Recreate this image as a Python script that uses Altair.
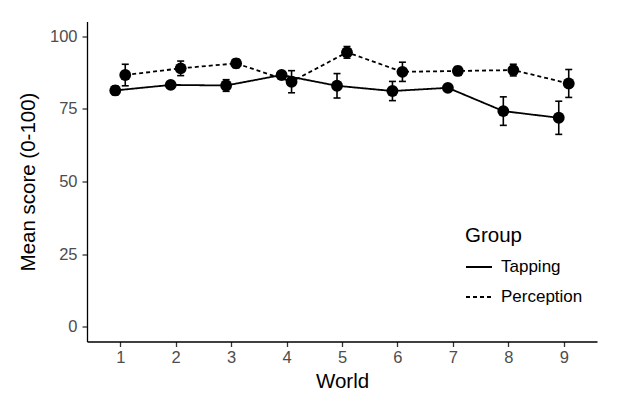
import altair as alt
import pandas as pd

worlds = [1, 2, 3, 4, 5, 6, 7, 8, 9]
groups = ["Tapping", "Perception"]
tapping_mean = [81.3, 83.2, 83.0, 86.6, 82.9, 81.1, 82.2, 74.2, 71.9]
tapping_err = [1.5, 1.0, 2.0, 1.0, 4.2, 3.3, 1.0, 4.9, 5.7]
perception_mean = [86.6, 88.9, 90.6, 84.3, 94.4, 87.7, 88.0, 88.3, 83.7]
perception_err = [3.7, 2.5, 1.5, 3.8, 2.0, 3.3, 1.5, 2.0, 4.8]
y_ticks = [0, 25, 50, 75, 100]

rows = []
for g, means, errs in [("Tapping", tapping_mean, tapping_err),
                       ("Perception", perception_mean, perception_err)]:
    for w, m, e in zip(worlds, means, errs):
        rows.append({"World": w, "Group": g, "Mean": m, "Lo": m - e, "Hi": m + e})
df = pd.DataFrame(rows)

FONT = "Liberation Sans"

base = alt.Chart(df).transform_calculate(
    xd="datum.World + (datum.Group === 'Tapping' ? -0.09 : 0.09)"
)

x = alt.X("xd:Q", scale=alt.Scale(domain=[0.4, 9.6], nice=False, zero=False),
          axis=alt.Axis(values=worlds, title="World", format="d"))
y = alt.Y("Mean:Q", scale=alt.Scale(domain=[-5, 105], nice=False, zero=False),
          axis=alt.Axis(values=y_ticks, title="Mean score (0-100)"))

lines = base.mark_line(color="black", strokeWidth=1.8).encode(
    x=x, y=y,
    strokeDash=alt.StrokeDash(
        "Group:N",
        scale=alt.Scale(domain=groups, range=[[1, 0], [4, 3]]),
        legend=alt.Legend(
            title="Group", orient="none", legendX=378, legendY=204,
            symbolType="stroke", symbolSize=676, symbolStrokeColor="black",
            symbolStrokeWidth=1.8, labelFontSize=17, titleFontSize=20.5,
            titleFontWeight="normal", labelFont=FONT, titleFont=FONT,
            labelColor="black", titleColor="black", rowPadding=8,
            labelOffset=8, titlePadding=7,
        ),
    ),
)

rules = base.mark_rule(color="black", strokeWidth=1.6).encode(
    x=x, y=alt.Y("Lo:Q"), y2="Hi:Q"
)
caps_lo = base.mark_tick(color="black", orient="horizontal", size=7,
                         thickness=1.6, opacity=1).encode(x=x, y=alt.Y("Lo:Q"))
caps_hi = base.mark_tick(color="black", orient="horizontal", size=7,
                         thickness=1.6, opacity=1).encode(x=x, y=alt.Y("Hi:Q"))
points = base.mark_point(filled=True, size=140, color="black", opacity=1).encode(
    x=x, y=y
)

chart = alt.layer(lines, rules, caps_lo, caps_hi, points).properties(
    width=510, height=320,
    padding={"left": 79, "top": 13.5, "right": 25, "bottom": 58.5},
    autosize=alt.AutoSizeParams(type="none"),
    background="white",
).configure_view(stroke=None).configure_axis(
    grid=False, domainColor="black", domainWidth=1.3, tickColor="#333333",
    tickSize=5, tickWidth=1.3, labelColor="#4d4d4d", labelFontSize=16.5,
    labelFont=FONT, titleFont=FONT, titleFontSize=20.5, titleFontWeight="normal",
    titleColor="black",
).configure_axisX(titlePadding=5, labelPadding=3).configure_axisY(
    titlePadding=11, labelPadding=5
)

chart.save("out.html", embed_options={"renderer": "svg", "actions": False})
